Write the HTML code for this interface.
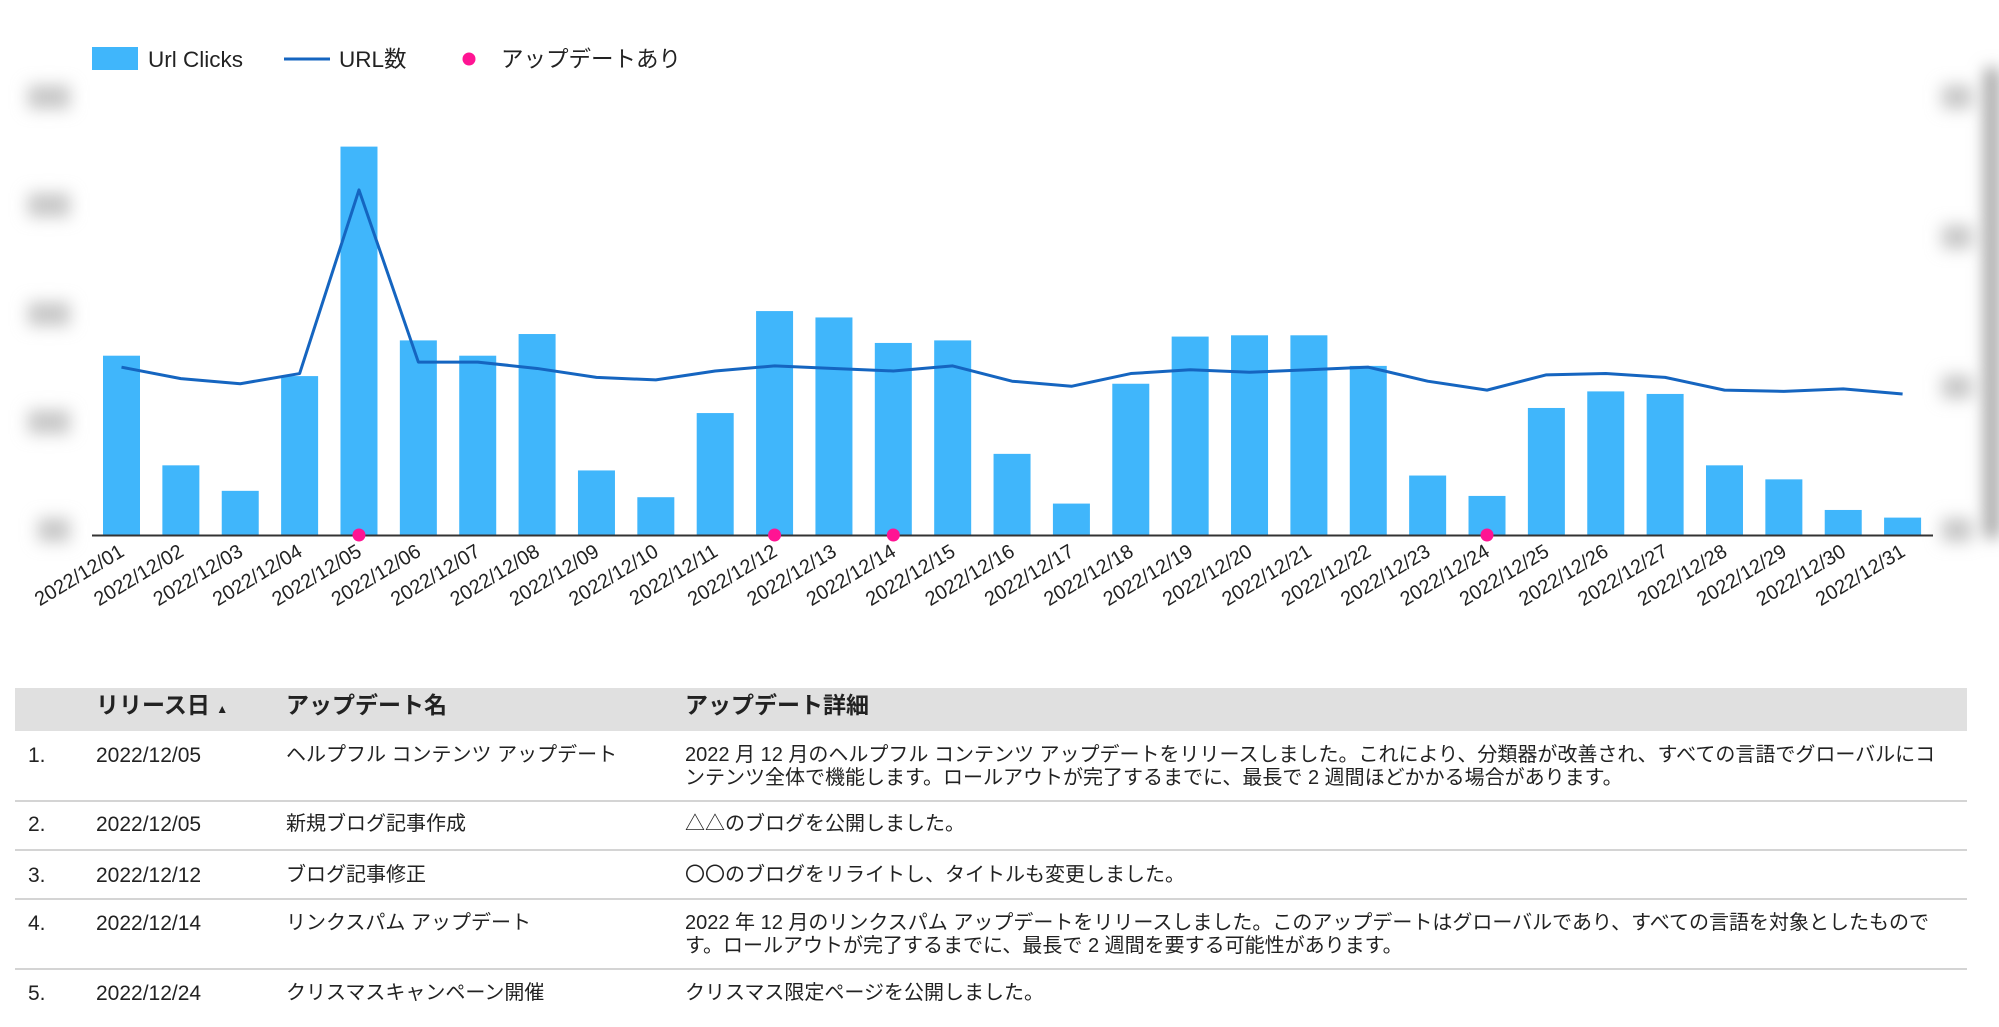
<!DOCTYPE html>
<html><head><meta charset="utf-8"><style>
body{margin:0;background:#fff;width:1999px;height:1027px;overflow:hidden;position:relative;font-family:"Liberation Sans","Noto Sans CJK JP",sans-serif;color:#222}
svg{position:absolute;left:0;top:0}
.t{position:absolute;font-size:20px;white-space:nowrap;line-height:23px}
.d{font-size:21px}
.h{font-weight:bold;font-size:23px;top:694px}
.sep{position:absolute;left:15px;width:1952px;height:2px;background:#d4d4d4}
</style></head><body>
<svg width="1999" height="640" xmlns="http://www.w3.org/2000/svg">
<defs><filter id="b"><feGaussianBlur stdDeviation="8"/></filter></defs>
<g filter="url(#b)" fill="#c8c8c8">
<rect x="28" y="85" width="42" height="24"/><rect x="28" y="193" width="42" height="24"/><rect x="28" y="302" width="42" height="24"/><rect x="28" y="410" width="42" height="24"/><rect x="38" y="518" width="32" height="24"/>
<rect x="1942" y="85" width="30" height="24"/><rect x="1942" y="225" width="30" height="24"/><rect x="1942" y="375" width="30" height="24"/><rect x="1942" y="518" width="30" height="24"/>
<rect x="1985" y="68" width="14" height="470" fill="#999"/>
</g>
<rect x="92" y="47" width="46" height="23" fill="#40b6fb"/>
<text x="148" y="67" font-size="22.5" fill="#222">Url Clicks</text>
<line x1="284" y1="59" x2="330" y2="59" stroke="#1565c0" stroke-width="3"/>
<text x="339" y="67" font-size="22.5" fill="#222">URL数</text>
<circle cx="469" cy="59" r="6.5" fill="#ff1493"/>
<text x="501" y="67" font-size="22.5" fill="#222">アップデートあり</text>
<g fill="#40b6fb" id="bars"></g>
<line x1="92" y1="535.5" x2="1933" y2="535.5" stroke="#333" stroke-width="2"/>
<polyline id="ln" fill="none" stroke="#1565c0" stroke-width="3" stroke-linejoin="round"/>
<g id="dots" fill="#ff1493"></g>
<g id="lab" font-size="20" fill="#222"></g>
</svg>
<script>
var tops=[279,365,385,295,115,267,279,262,369,390,324,244,249,269,267,356,395,301,264,263,263,287,373,389,320,307,309,365,376,400,406];
var ln=[288,297,301,293,149,284,284,289,296,298,291,287,289,291,287,299,303,293,290,292,290,288,299,306,294,293,296,306,307,305,309];
var s=1.2749,ns="http://www.w3.org/2000/svg",bars=document.getElementById('bars'),lab=document.getElementById('lab'),dots=document.getElementById('dots'),pts=[];
for(var i=0;i<31;i++){var cx=121.5+i*59.37;var y=tops[i]*s;
var r=document.createElementNS(ns,'rect');r.setAttribute('x',cx-18.5);r.setAttribute('y',y);r.setAttribute('width',37);r.setAttribute('height',535-y);bars.appendChild(r);
pts.push(cx+','+(ln[i]*s));
var t=document.createElementNS(ns,'text');t.setAttribute('text-anchor','end');t.setAttribute('transform','translate('+(cx+4)+',555) rotate(-31)');t.textContent='2022/12/'+(i<9?'0':'')+(i+1);lab.appendChild(t);
if([4,11,13,23].indexOf(i)>=0){var c=document.createElementNS(ns,'circle');c.setAttribute('cx',cx);c.setAttribute('cy',535);c.setAttribute('r',6.5);dots.appendChild(c);}}
document.getElementById('ln').setAttribute('points',pts.join(' '));
</script>
<div style="position:absolute;left:15px;top:688px;width:1952px;height:43px;background:#e0e0e0"></div>
<div class="t h" style="left:96px">リリース日 <span style="font-size:12px">▲</span></div>
<div class="t h" style="left:286px">アップデート名</div>
<div class="t h" style="left:685px">アップデート詳細</div>
<div class="t d" style="left:28px;top:744px">1.</div><div class="t d" style="left:96px;top:744px">2022/12/05</div><div class="t" style="left:286px;top:744px">ヘルプフル コンテンツ アップデート</div>
<div class="t" style="left:685px;top:744px">2022 月 12 月のヘルプフル コンテンツ アップデートをリリースしました。これにより、分類器が改善され、すべての言語でグローバルにコ<br>ンテンツ全体で機能します。ロールアウトが完了するまでに、最長で 2 週間ほどかかる場合があります。</div>
<div class="sep" style="top:800px"></div>
<div class="t d" style="left:28px;top:813px">2.</div><div class="t d" style="left:96px;top:813px">2022/12/05</div><div class="t" style="left:286px;top:813px">新規ブログ記事作成</div><div class="t" style="left:685px;top:813px">△△のブログを公開しました。</div>
<div class="sep" style="top:849px"></div>
<div class="t d" style="left:28px;top:864px">3.</div><div class="t d" style="left:96px;top:864px">2022/12/12</div><div class="t" style="left:286px;top:864px">ブログ記事修正</div><div class="t" style="left:685px;top:864px">〇〇のブログをリライトし、タイトルも変更しました。</div>
<div class="sep" style="top:898px"></div>
<div class="t d" style="left:28px;top:912px">4.</div><div class="t d" style="left:96px;top:912px">2022/12/14</div><div class="t" style="left:286px;top:912px">リンクスパム アップデート</div>
<div class="t" style="left:685px;top:912px">2022 年 12 月のリンクスパム アップデートをリリースしました。このアップデートはグローバルであり、すべての言語を対象としたもので<br>す。ロールアウトが完了するまでに、最長で 2 週間を要する可能性があります。</div>
<div class="sep" style="top:968px"></div>
<div class="t d" style="left:28px;top:982px">5.</div><div class="t d" style="left:96px;top:982px">2022/12/24</div><div class="t" style="left:286px;top:982px">クリスマスキャンペーン開催</div><div class="t" style="left:685px;top:982px">クリスマス限定ページを公開しました。</div>
</body></html>
